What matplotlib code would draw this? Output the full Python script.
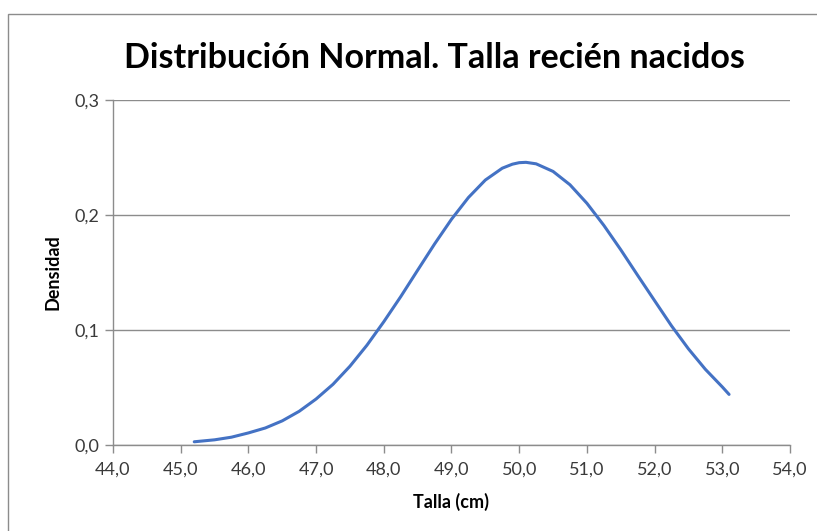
import matplotlib
matplotlib.use("Agg")
from matplotlib import pyplot as plt
from matplotlib.ticker import FuncFormatter, MultipleLocator
from matplotlib.patches import Rectangle

# talla (cm) and density
talla = [45.2, 45.5, 45.75, 46.0, 46.25, 46.5, 46.75, 47.0, 47.25, 47.5,
         47.75, 48.0, 48.25, 48.5, 48.75, 49.0, 49.25, 49.5, 49.75, 49.9,
         50.0, 50.1, 50.25, 50.5, 50.75, 51.0, 51.25, 51.5, 51.75, 52.0,
         52.25, 52.5, 52.75, 53.0, 53.1]
densidad = [0.0028, 0.0045, 0.0068, 0.0105, 0.0148, 0.0210, 0.0293, 0.0400,
            0.0528, 0.0685, 0.0867, 0.1072, 0.1290, 0.1520, 0.1748, 0.1963,
            0.2152, 0.2304, 0.2407, 0.2442, 0.2455, 0.2458, 0.2445, 0.2379,
            0.2263, 0.2102, 0.1910, 0.1698, 0.1475, 0.1255, 0.1036, 0.0836,
            0.0658, 0.0505, 0.0440]

title = "Distribución Normal. Talla recién nacidos"

fig = plt.figure(figsize=(8.17, 5.31), dpi=100)
font = "Lato"

# chart area frame
fig.patches.append(Rectangle((8 / 817, -0.1), 1.2, 1 - 14 / 531 + 0.1,
                             transform=fig.transFigure, fill=False,
                             edgecolor="#8c8c8c", linewidth=1.0))

ax = fig.add_axes([113 / 817, 1 - 445 / 531, (790 - 113) / 817, (445 - 100) / 531])
ax.plot(talla, densidad, color="#4472C4", linewidth=2.2,
        solid_capstyle="round", solid_joinstyle="round")

ax.set_xlim(44, 54)
ax.set_ylim(0, 0.3)
ax.xaxis.set_major_locator(MultipleLocator(1))
ax.yaxis.set_major_locator(MultipleLocator(0.1))
ax.xaxis.set_major_formatter(FuncFormatter(lambda v, p: f"{v:.1f}".replace(".", ",")))
ax.yaxis.set_major_formatter(FuncFormatter(lambda v, p: f"{v:.1f}".replace(".", ",")))

ax.grid(axis="y", color="#8c8c8c", linewidth=1.0)
ax.set_axisbelow(True)
for s in ["top", "right"]:
    ax.spines[s].set_visible(False)
for s in ["left", "bottom"]:
    ax.spines[s].set_color("#8c8c8c")
    ax.spines[s].set_linewidth(1.0)
ax.tick_params(axis="both", colors="#8c8c8c", length=6, width=1.0,
               labelcolor="#3a3a3a", labelsize=13)
ax.tick_params(axis="x", pad=6)
ax.tick_params(axis="y", pad=4)
for lbl in ax.get_xticklabels() + ax.get_yticklabels():
    lbl.set_fontfamily(font)

ax.set_xlabel("Talla (cm)", fontfamily=font, fontweight="bold", fontsize=13, labelpad=11)
ax.set_ylabel("Densidad", fontfamily=font, fontweight="bold", fontsize=13, labelpad=9)

fig.text(434 / 817, 1 - 58 / 531, title, ha="center", va="center",
         fontfamily=font, fontweight="bold", fontsize=24.5)

fig.savefig("out.png", dpi=100)
